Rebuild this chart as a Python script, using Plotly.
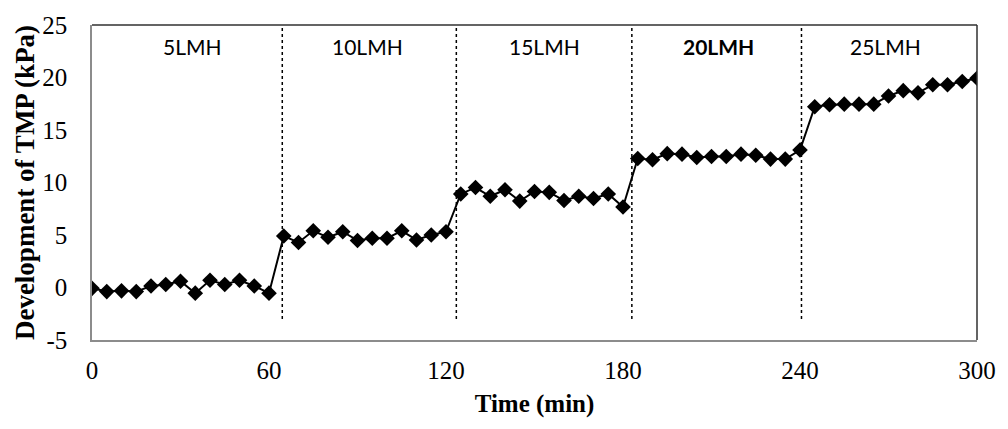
import plotly.graph_objects as go

# Data
time_min = list(range(0, 301, 5))
tmp_kpa = [
    # 5 LMH (0-60)
    -0.08, -0.39, -0.32, -0.39, 0.14, 0.29, 0.60, -0.54, 0.69, 0.29, 0.69, 0.14, -0.54,
    # 10 LMH (65-120)
    4.90, 4.29, 5.40, 4.78, 5.31, 4.48, 4.69, 4.69, 5.40, 4.53, 5.00, 5.31,
    # 15 LMH (125-180)
    8.91, 9.52, 8.69, 9.31, 8.23, 9.15, 9.06, 8.29, 8.69, 8.48, 8.91, 7.67,
    # 20 LMH (185-240)
    12.29, 12.17, 12.75, 12.70, 12.38, 12.47, 12.47, 12.70, 12.60, 12.23, 12.23, 13.09,
    # 25 LMH (245-300)
    17.22, 17.41, 17.46, 17.46, 17.46, 18.24, 18.75, 18.54, 19.31, 19.31, 19.62, 19.93,
]
flux_labels = ["5LMH", "10LMH", "15LMH", "<b>20LMH</b>", "25LMH"]
flux_label_x = [34, 93.5, 153.5, 212.5, 269]
flux_label_y = 23
divider_times = [64.5, 123.5, 183, 240.5]
divider_bottom = -3
x_ticks = [0, 60, 120, 180, 240, 300]
y_ticks = [-5, 0, 5, 10, 15, 20, 25]
y_tick_text = ["-5", "0", "5", "10", "15", "20", "25"]

fig = go.Figure()
fig.add_trace(go.Scatter(
    x=time_min, y=tmp_kpa, mode="lines+markers",
    line=dict(color="black", width=2),
    marker=dict(symbol="diamond", size=12, color="black"),
    showlegend=False,
))

for t in divider_times:
    fig.add_shape(type="line", xref="x", yref="y", x0=t, x1=t,
                  y0=divider_bottom, y1=25,
                  line=dict(color="black", width=1.5, dash="dot"))

for lab, lx in zip(flux_labels, flux_label_x):
    fig.add_annotation(x=lx, y=flux_label_y, text=lab, showarrow=False,
                       font=dict(family="Lato", size=21, color="black"))

# top and right border (dark)
fig.add_shape(type="line", xref="paper", yref="paper", x0=0, x1=1, y0=1, y1=1,
              line=dict(color="#303030", width=1.5))
fig.add_shape(type="line", xref="paper", yref="paper", x0=1, x1=1, y0=0, y1=1,
              line=dict(color="#303030", width=1.5))

fig.update_layout(
    width=1008, height=429,
    margin=dict(l=92, r=26, t=15, b=89),
    plot_bgcolor="white", paper_bgcolor="white",
    font=dict(family="Liberation Serif", color="black"),
    xaxis=dict(
        range=[0, 300], tickvals=x_ticks, showgrid=False, zeroline=False,
        showline=True, linecolor="#8c8c8c", linewidth=1.5,
        tickfont=dict(family="Liberation Serif", size=25, color="black"),
        ticklabelstandoff=7,
        title=dict(text="<b>Time (min)</b>", standoff=12,
                   font=dict(family="Liberation Serif", size=25, color="black")),
        ticks="", ticklen=0,
    ),
    yaxis=dict(
        range=[-5, 25], tickvals=y_ticks, ticktext=y_tick_text,
        showgrid=False, zeroline=False,
        showline=True, linecolor="#8c8c8c", linewidth=1.5,
        tickfont=dict(family="Liberation Serif", size=25, color="black"),
        ticklabelstandoff=18,
        title=dict(text="<b>Development of TMP (kPa)</b>", standoff=0,
                   font=dict(family="Liberation Serif", size=27, color="black")),
        ticks="", ticklen=0,
    ),
)

fig.write_html("out.html")
